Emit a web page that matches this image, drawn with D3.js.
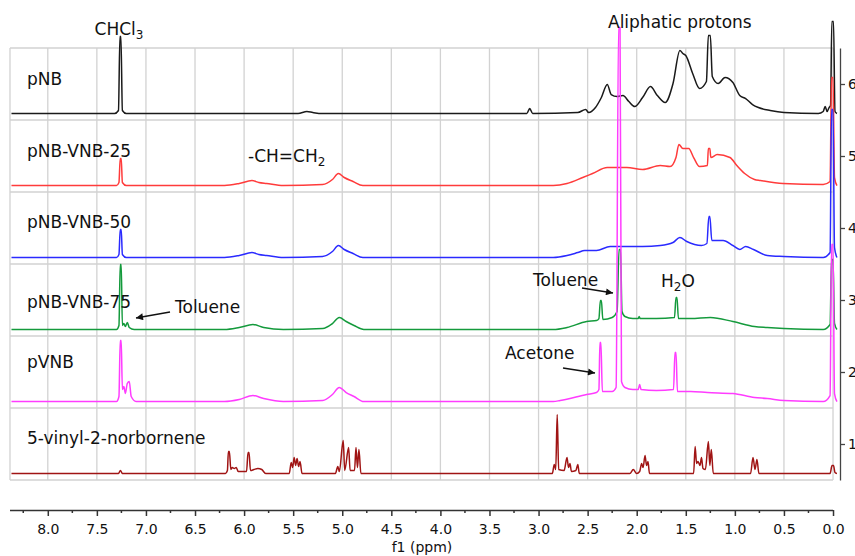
<!DOCTYPE html>
<html>
<head>
<meta charset="utf-8">
<script src="https://cdn.jsdelivr.net/npm/d3@7"></script>
<style>
  body { margin: 0; background: #fff; }
  text { font-family: 'DejaVu Sans', Verdana, sans-serif; fill: #111; }
</style>
</head>
<body>
<div id="chart"></div>
<script>
// spectra: [ppm, intensity] (a.u., 72 = one trace spacing)
const names = ['pNB', 'pNB-VNB-25', 'pNB-VNB-50', 'pNB-VNB-75', 'pVNB', '5-vinyl-2-norbornene']
const offsets = [6, 5, 4, 3, 2, 1]
const colors = ['#1a1a1a', '#ff3b3b', '#2a2aff', '#149a3c', '#ff3cff', '#a01414']

const pNB = [[8.37, 0], [7.32, 0], [7.28, 3], [7.265, 77], [7.255, 77], [7.24, 3], [7.2, 0], [5.45, 0], [5.36, 2], [5.3, 1], [5.2, 0],
  [3.12, 0], [3.09, 5], [3.06, 0], [2.6, 1], [2.52, 4], [2.49, 1], [2.42, 6], [2.36, 16], [2.30, 29], [2.26, 19], [2.20, 17],
  [2.14, 18], [2.08, 12], [2.02, 7], [1.94, 16], [1.86, 27], [1.79, 18], [1.71, 11], [1.63, 30], [1.56, 63], [1.53, 60],
  [1.50, 58], [1.43, 40], [1.36, 25], [1.29, 32], [1.27, 78], [1.25, 78], [1.23, 37], [1.17, 30], [1.10, 36], [1.02, 31],
  [0.95, 18], [0.89, 15], [0.82, 9], [0.76, 6], [0.64, 3], [0.5, 1], [0.15, 0], [0.10, 2], [0.08, 7], [0.06, 2], [0.04, 6],
  [0.025, 8], [0.012, 92], [-0.005, 92], [-0.02, 2], [-0.04, 0]]

const pNBVNB25 = [[8.37, 0], [7.3, 0], [7.275, 3], [7.262, 27], [7.252, 27], [7.24, 3], [7.2, 0], [6.2, 0], [6.05, 2], [5.92, 5],
  [5.85, 3], [5.77, 2], [5.6, 0], [5.2, 1], [5.1, 6], [5.04, 12], [4.98, 8], [4.89, 4], [4.79, 0], [2.85, 0], [2.71, 2],
  [2.55, 8], [2.45, 12], [2.30, 18], [2.10, 18], [1.94, 16], [1.76, 20], [1.66, 19], [1.60, 28], [1.57, 41], [1.53, 37],
  [1.47, 37], [1.42, 28], [1.36, 19], [1.28, 20], [1.27, 37], [1.255, 37], [1.245, 28], [1.18, 31], [1.05, 28], [0.98, 20],
  [0.90, 12], [0.80, 6], [0.74, 5], [0.51, 2], [0.1, 1], [0.03, 4], [0.015, 108], [0.0, 108], [-0.015, 8], [-0.04, 0]]

const pNBVNB50 = [[8.37, 0], [7.3, 0], [7.275, 3], [7.262, 28], [7.252, 28], [7.24, 3], [7.2, 0], [6.2, 0], [6.05, 2], [5.92, 5],
  [5.85, 3], [5.77, 2], [5.6, 0], [5.2, 1], [5.1, 6], [5.04, 12], [4.98, 8], [4.89, 4], [4.79, 0], [2.85, 0], [2.71, 2],
  [2.60, 5], [2.53, 7], [2.41, 7], [2.27, 11], [2.10, 11], [1.94, 11], [1.76, 12], [1.63, 15], [1.56, 20], [1.49, 16],
  [1.34, 12], [1.285, 14], [1.265, 41], [1.255, 41], [1.235, 17], [1.12, 17], [1.02, 12], [0.95, 8], [0.89, 11], [0.81, 8],
  [0.67, 2], [0.5, 1], [0.1, 0], [0.03, 5], [0.015, 148], [0.0, 148], [-0.015, 10], [-0.04, 0]]

const pNBVNB75 = [[8.37, 0], [7.3, 0], [7.275, 4], [7.262, 65], [7.252, 65], [7.24, 4], [7.225, 6], [7.21, 3], [7.19, 7],
  [7.17, 2], [7.12, 0], [6.2, 0], [6.05, 2], [5.91, 5], [5.8, 2], [5.6, 0], [5.2, 1], [5.1, 6], [5.03, 12], [4.96, 8],
  [4.88, 4], [4.78, 0], [2.85, 0], [2.71, 2], [2.51, 8], [2.41, 9], [2.385, 11], [2.37, 29], [2.36, 29], [2.345, 10],
  [2.25, 12], [2.20, 18], [2.18, 80], [2.165, 80], [2.15, 18], [2.12, 13], [2.04, 11], [1.985, 11], [1.975, 13], [1.965, 11],
  [1.8, 11], [1.615, 12], [1.60, 32], [1.59, 32], [1.575, 11], [1.45, 11], [1.25, 12], [1.02, 8], [0.80, 3], [0.67, 2],
  [0.5, 1], [0.1, 0], [0.03, 5], [0.015, 70], [0.0, 70], [-0.015, 6], [-0.04, 0]]

const pVNB = [[8.37, 0], [7.3, 0], [7.275, 5], [7.262, 61], [7.252, 61], [7.24, 12], [7.225, 15], [7.21, 8], [7.19, 18],
  [7.17, 20], [7.15, 5], [7.10, 0], [6.2, 0], [6.05, 2], [5.91, 6], [5.8, 3], [5.6, 0], [5.2, 1], [5.1, 7], [5.03, 14],
  [4.96, 9], [4.88, 5], [4.78, 0], [2.85, 0], [2.78, 1], [2.51, 7], [2.41, 9], [2.385, 12], [2.375, 59], [2.365, 59],
  [2.35, 10], [2.25, 10], [2.21, 14], [2.185, 374], [2.170, 374], [2.155, 20], [2.12, 14], [2.04, 12], [1.985, 12],
  [1.97, 17], [1.955, 12], [1.8, 11], [1.625, 12], [1.61, 49], [1.60, 49], [1.585, 10], [1.45, 10], [1.28, 9], [1.02, 8],
  [0.80, 4], [0.67, 3], [0.5, 1], [0.1, 0], [0.03, 6], [0.015, 157], [0.0, 157], [-0.015, 8], [-0.04, 0]]

const vnbMonomer = [[8.37, 0], [7.28, 0], [7.26, 3], [7.24, 0], [6.19, 0], [6.17, 3], [6.16, 22], [6.15, 22], [6.135, 4],
  [6.12, 6], [6.10, 5], [6.08, 6], [6.06, 2], [5.975, 2], [5.96, 21], [5.95, 21], [5.935, 3], [5.90, 4], [5.86, 5], [5.82, 4],
  [5.78, 0], [5.54, 0], [5.52, 11], [5.505, 6], [5.49, 16], [5.475, 8], [5.46, 15], [5.445, 7], [5.43, 12], [5.41, 0],
  [5.07, 0], [5.045, 7], [5.03, 2], [4.99, 33], [4.975, 3], [4.935, 26], [4.92, 3], [4.875, 3], [4.86, 26], [4.845, 6],
  [4.83, 24], [4.81, 0], [2.86, 0], [2.84, 9], [2.825, 4], [2.81, 59], [2.795, 4], [2.74, 3], [2.71, 16], [2.695, 6],
  [2.68, 10], [2.665, 2], [2.62, 3], [2.60, 9], [2.585, 0], [2.07, 0], [2.035, 4], [2.0, 0], [1.97, 2], [1.95, 10],
  [1.935, 6], [1.915, 18], [1.90, 8], [1.885, 12], [1.87, 0], [1.42, 0], [1.405, 27], [1.39, 10], [1.375, 12], [1.355, 8],
  [1.34, 16], [1.325, 5], [1.30, 4], [1.27, 32], [1.255, 8], [1.24, 24], [1.22, 0], [0.84, 0], [0.815, 16], [0.795, 4],
  [0.775, 14], [0.755, 0], [0.03, 0], [0.01, 8], [-0.005, 8], [-0.02, 1], [-0.04, 0]]

const spectra = [pNB, pNBVNB25, pNBVNB50, pNBVNB75, pVNB, vnbMonomer]

const ppmTicks = d3.range(0, 8.01, 0.5)
const ppmMinorTicks = d3.range(0.25, 8.3, 0.5)
const offsetTicks = [1, 2, 3, 4, 5, 6]

const width = 855
const height = 556
const plot = { left: 10, right: 834, top: 48, bottom: 480 }

const svg = d3.select('#chart').append('svg')
  .attr('width', width)
  .attr('height', height)

const x = d3.scaleLinear().domain([8.385, -0.01]).range([plot.left, plot.right])
const y = d3.scaleLinear().domain([0.5, 6.5]).range([plot.bottom, plot.top])
const intensity = d3.scaleLinear().domain([0, 72]).range([0, 1])

// grid
const grid = svg.append('g').attr('stroke', '#d2d2d2').attr('stroke-width', 1.3)
grid.selectAll('.vg')
  .data([8.385].concat(ppmTicks))
  .join('line')
  .attr('x1', d => x(d)).attr('x2', d => x(d))
  .attr('y1', plot.top).attr('y2', plot.bottom)
grid.selectAll('.hg')
  .data(d3.range(0.5, 6.6, 1))
  .join('line')
  .attr('x1', plot.left).attr('x2', x(0))
  .attr('y1', d => y(d)).attr('y2', d => y(d))

// spectra
const line = d3.line()
  .x(d => x(d[0]))
  .y(d => d.y)
  .curve(d3.curveMonotoneX)

spectra.forEach((s, i) => {
  const base = offsets[i] - 0.41
  const pts = s.map(p => {
    const q = [p[0], p[1]]
    q.y = y(base + intensity(p[1]))
    return q
  })
  svg.append('path')
    .datum(pts)
    .attr('fill', 'none')
    .attr('stroke', colors[i])
    .attr('stroke-width', 1.5)
    .attr('stroke-linejoin', 'round')
    .attr('d', line)
})

// series labels
const labelBaselines = [85, 157, 228, 308, 368, 444]
names.forEach((n, i) => {
  svg.append('text')
    .attr('x', 27)
    .attr('y', labelBaselines[i])
    .attr('font-size', 17)
    .text(n)
})

// bottom axis
const xAxis = svg.append('g')
  .attr('transform', 'translate(0,510)')
  .call(d3.axisBottom(x).tickValues(ppmTicks).tickSize(6).tickSizeOuter(0).tickPadding(8).tickFormat(d3.format('.1f')))
xAxis.select('.domain').attr('d', `M${plot.left},0.5H${x(0)}`).attr('stroke', '#333').attr('stroke-width', 1.5)
xAxis.selectAll('.tick line').attr('stroke', '#333').attr('stroke-width', 1.5)
xAxis.selectAll('.tick text').attr('font-size', 14).attr('fill', '#111').style('font-family', "'DejaVu Sans', sans-serif")
xAxis.selectAll('.minor')
  .data(ppmMinorTicks)
  .join('line')
  .attr('x1', d => x(d)).attr('x2', d => x(d))
  .attr('y1', 0).attr('y2', 3)
  .attr('stroke', '#333').attr('stroke-width', 1.5)

svg.append('text')
  .attr('x', 422).attr('y', 552)
  .attr('text-anchor', 'middle')
  .attr('font-size', 14)
  .text('f1 (ppm)')

// right axis
const yAxis = svg.append('g')
  .attr('transform', 'translate(840,0)')
  .call(d3.axisRight(y).tickValues(offsetTicks).tickSize(5).tickSizeOuter(0).tickPadding(3).tickFormat(d3.format('d')))
yAxis.select('.domain').attr('stroke', '#444').attr('stroke-width', 1.3)
yAxis.selectAll('.tick line').attr('stroke', '#444').attr('stroke-width', 1.3)
yAxis.selectAll('.tick text').attr('font-size', 14).attr('fill', '#111').style('font-family', "'DejaVu Sans', sans-serif")

// annotations
const ann = svg.append('g').attr('font-size', 17)

const chcl3 = ann.append('text').attr('x', 119).attr('y', 35).attr('text-anchor', 'middle')
chcl3.append('tspan').text('CHCl')
chcl3.append('tspan').attr('font-size', 12).attr('dy', 4).text('3')

ann.append('text').attr('x', 608).attr('y', 28).text('Aliphatic protons')

const vinyl = ann.append('text').attr('x', 248).attr('y', 162)
vinyl.append('tspan').text('-CH=CH')
vinyl.append('tspan').attr('font-size', 12).attr('dy', 4).text('2')

ann.append('text').attr('x', 175).attr('y', 313).text('Toluene')
ann.append('text').attr('x', 533).attr('y', 286).text('Toluene')
ann.append('text').attr('x', 505).attr('y', 359).text('Acetone')

const water = ann.append('text').attr('x', 661).attr('y', 287)
water.append('tspan').text('H')
water.append('tspan').attr('font-size', 12).attr('dy', 4).text('2')
water.append('tspan').attr('dy', -4).text('O')

svg.append('defs').append('marker')
  .attr('id', 'arrow')
  .attr('viewBox', '0 0 10 10')
  .attr('refX', 10).attr('refY', 5)
  .attr('markerWidth', 10).attr('markerHeight', 7)
  .attr('markerUnits', 'userSpaceOnUse')
  .attr('orient', 'auto')
  .append('path')
  .attr('d', 'M0,0L10,5L0,10Z')
  .attr('fill', '#111')

const arrows = [[170, 312, 136, 318], [582, 288, 613, 293], [563, 368, 595, 373]]
svg.selectAll('.arrow')
  .data(arrows)
  .join('line')
  .attr('x1', d => d[0]).attr('y1', d => d[1])
  .attr('x2', d => d[2]).attr('y2', d => d[3])
  .attr('stroke', '#111')
  .attr('stroke-width', 1.3)
  .attr('marker-end', 'url(#arrow)')
</script>
</body>
</html>
